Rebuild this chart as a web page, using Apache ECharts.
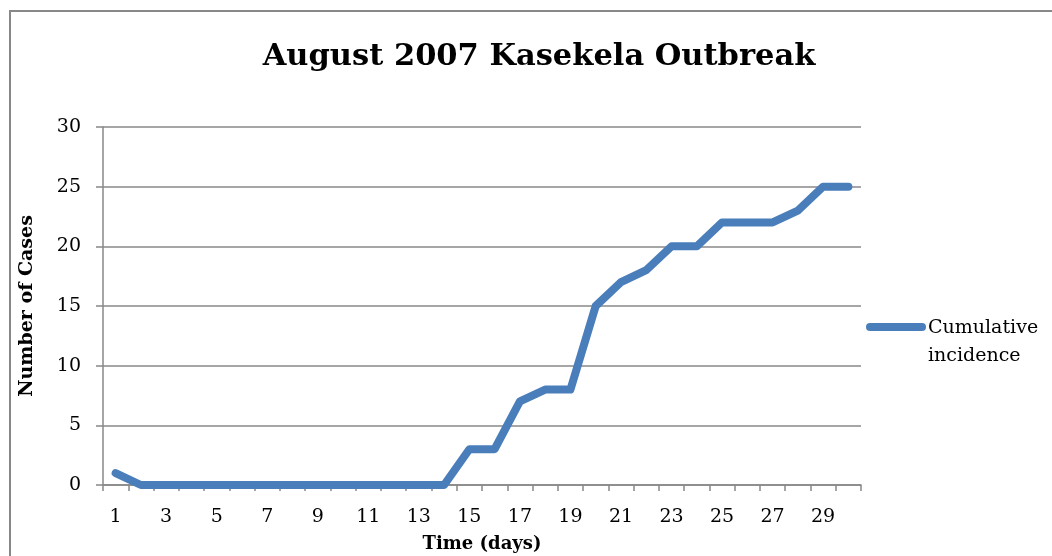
<!DOCTYPE html>
<html>
<head>
<meta charset="utf-8">
<script src="https://cdn.jsdelivr.net/npm/echarts@6/dist/echarts.min.js"></script>
<style>
  html, body { margin: 0; padding: 0; background: #fff; }
  #chart { width: 1052px; height: 556px; }
</style>
</head>
<body>
<div id="chart"></div>
<script>
const days = ['1', '2', '3', '4', '5', '6', '7', '8', '9', '10', '11', '12', '13', '14', '15',
  '16', '17', '18', '19', '20', '21', '22', '23', '24', '25', '26', '27', '28', '29', '30']
const cumulative = [1, 0, 0, 0, 0, 0, 0, 0, 0, 0, 0, 0, 0, 0, 3,
  3, 7, 8, 8, 15, 17, 18, 20, 20, 22, 22, 22, 23, 25, 25]

const serif = 'DejaVu Serif'
const blue = '#4A7EBB'
const grey = '#888888'

const chart = echarts.init(document.getElementById('chart'))

chart.setOption({
  animation: false,
  backgroundColor: '#fff',
  title: {
    text: 'August 2007 Kasekela Outbreak',
    left: 534,
    textAlign: 'center',
    top: 37,
    textStyle: { fontFamily: serif, fontWeight: 'bold', fontSize: 30.5, color: '#000' },
  },
  graphic: [
    {
      type: 'rect',
      shape: { x: 10, y: 11, width: 1100, height: 600 },
      style: { fill: 'none', stroke: grey, lineWidth: 2 },
      silent: true,
    },
    // legend text, two lines as in the original
    {
      type: 'text',
      left: 928,
      top: 314,
      style: {
        text: 'Cumulative\nincidence',
        fontFamily: serif,
        fontSize: 19,
        lineHeight: 28,
        fill: '#000',
      },
    },
  ],
  legend: {
    show: true,
    left: 866,
    top: 323,
    padding: 0,
    itemWidth: 60,
    itemHeight: 8,
    formatter: () => '',
    data: [{ name: 'Cumulative incidence', icon: 'path://M4,0 L56,0 A4,4 0 0 1 56,8 L4,8 A4,4 0 0 1 4,0 Z' }],
  },
  grid: { left: 103, top: 127, right: 191, bottom: 71, outerBoundsMode: 'none' },
  xAxis: {
    type: 'category',
    data: days,
    boundaryGap: true,
    name: 'Time (days)',
    nameLocation: 'middle',
    nameGap: 50,
    nameTextStyle: { fontFamily: serif, fontWeight: 'bold', fontSize: 18, color: '#000' },
    axisLine: { lineStyle: { color: grey, width: 1.5 } },
    axisTick: { show: true, length: 6, interval: 0, lineStyle: { color: grey, width: 1.5 } },
    axisLabel: { interval: 1, fontFamily: serif, fontSize: 19, color: '#000', margin: 23 },
  },
  yAxis: {
    type: 'value',
    min: 0,
    max: 30,
    interval: 5,
    name: 'Number of Cases',
    nameLocation: 'middle',
    nameGap: 66,
    nameTextStyle: { fontFamily: serif, fontWeight: 'bold', fontSize: 19, color: '#000' },
    axisLine: { show: true, lineStyle: { color: grey, width: 1.5 } },
    axisTick: { show: true, length: 7, lineStyle: { color: grey, width: 1.5 } },
    axisLabel: { fontFamily: serif, fontSize: 19, color: '#000', margin: 22 },
    splitLine: { lineStyle: { color: grey, width: 1.5 } },
  },
  series: [
    {
      name: 'Cumulative incidence',
      type: 'line',
      data: cumulative,
      symbol: 'none',
      color: blue,
      lineStyle: { color: blue, width: 8, cap: 'round', join: 'round' },
    },
  ],
})
</script>
</body>
</html>
